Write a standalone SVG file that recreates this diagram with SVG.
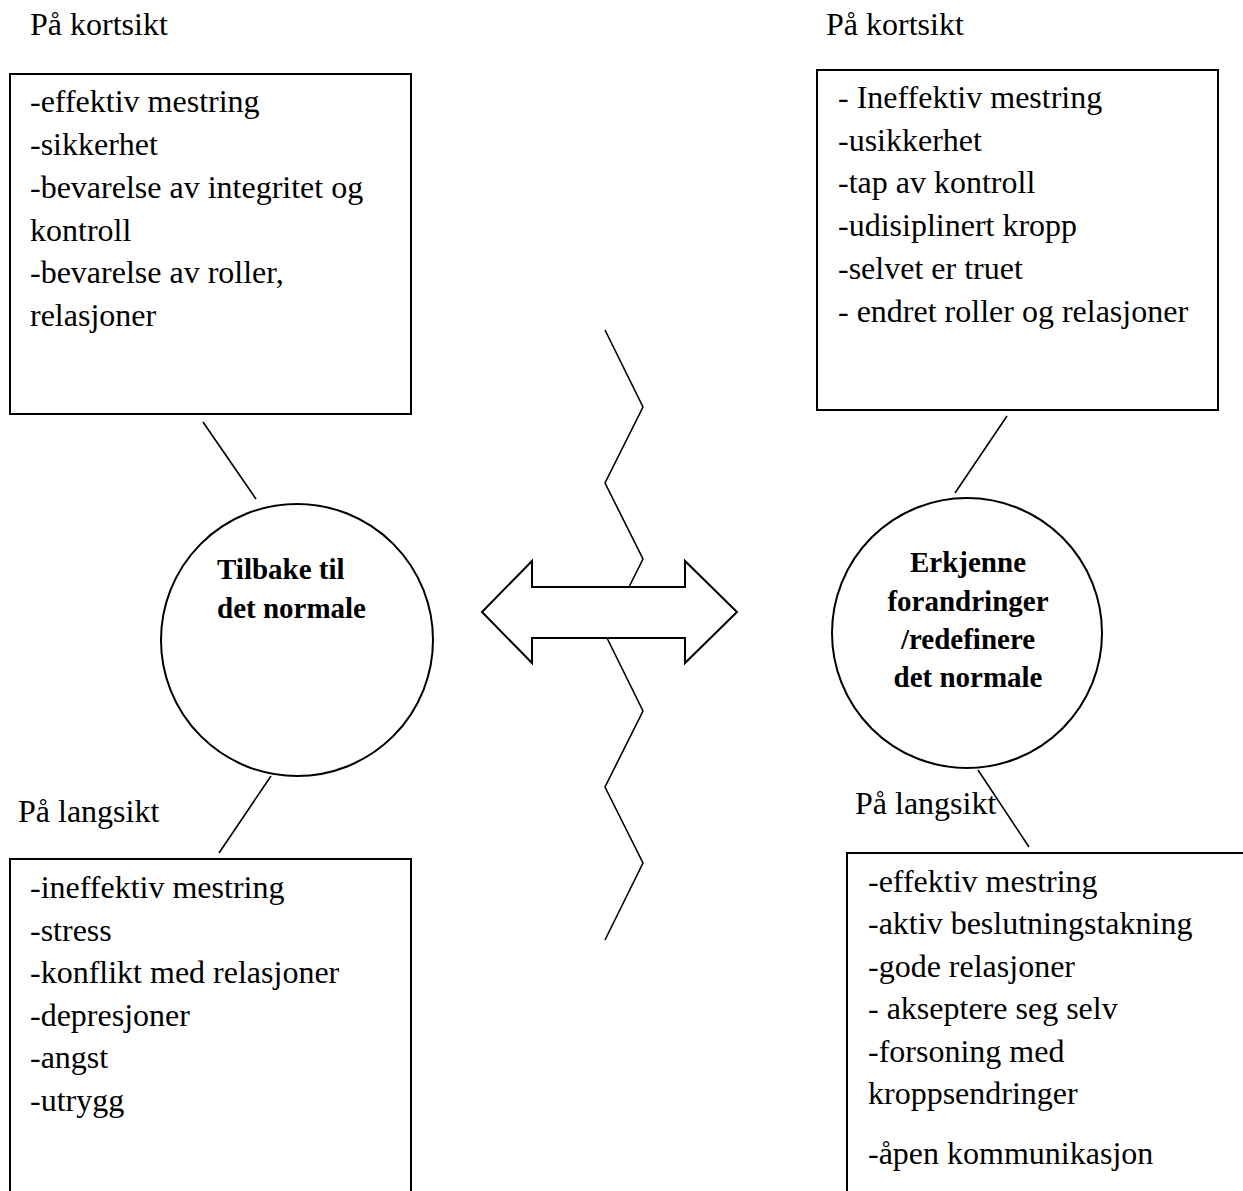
<svg xmlns="http://www.w3.org/2000/svg" width="1243" height="1191" viewBox="0 0 1243 1191">
<style>
.t{font-family:"Liberation Serif","Times New Roman",serif;font-size:32px;fill:#000}
.b{font-family:"Liberation Serif","Times New Roman",serif;font-size:29px;font-weight:bold;fill:#000}
.box{fill:#fff;stroke:#000;stroke-width:2}
.circ{fill:#fff;stroke:#000;stroke-width:2}
.ln{fill:none;stroke:#000;stroke-width:1.6}
</style>
<rect width="1243" height="1191" fill="#fff"/>
<g id="connectors">
<line class="ln" x1="203" y1="422" x2="256" y2="499"/>
<line class="ln" x1="271" y1="776" x2="219" y2="853"/>
<line class="ln" x1="1007" y1="416" x2="955" y2="493"/>
<line class="ln" x1="978" y1="770" x2="1029" y2="847"/>
</g>
<g id="zigzag">
<polyline class="ln" points="605,330 643,407 605,483 643,559 629,587"/>
<polyline class="ln" points="607,638 643,711 605,787 643,863 605,940"/>
</g>
<g id="double-arrow">
<polygon fill="none" stroke="#000" stroke-width="2" points="482,612 532,561 532,587 685,587 685,561 737,612 685,663 685,638 532,638 532,663"/>
</g>
<g id="label-kort-left"><text class="t" x="30" y="35">På kortsikt</text></g>
<g id="box-top-left">
<rect class="box" x="10" y="74" width="401" height="340"/>
<text class="t" x="30" y="112">-effektiv mestring</text>
<text class="t" x="30" y="155">-sikkerhet</text>
<text class="t" x="30" y="198">-bevarelse av integritet og</text>
<text class="t" x="30" y="241">kontroll</text>
<text class="t" x="30" y="283">-bevarelse av roller,</text>
<text class="t" x="30" y="326">relasjoner</text>
</g>
<g id="circle-left">
<circle class="circ" cx="297" cy="640" r="136"/>
<text class="b" x="217" y="579">Tilbake til</text>
<text class="b" x="217" y="618">det normale</text>
</g>
<g id="label-lang-left"><text class="t" x="18" y="822">På langsikt</text></g>
<g id="box-bottom-left">
<rect class="box" x="10" y="859" width="401" height="360"/>
<text class="t" x="30" y="898">-ineffektiv mestring</text>
<text class="t" x="30" y="941">-stress</text>
<text class="t" x="30" y="983">-konflikt med relasjoner</text>
<text class="t" x="30" y="1026">-depresjoner</text>
<text class="t" x="30" y="1068">-angst</text>
<text class="t" x="30" y="1111">-utrygg</text>
</g>
<g id="label-kort-right"><text class="t" x="826" y="35">På kortsikt</text></g>
<g id="box-top-right">
<rect class="box" x="817" y="70" width="401" height="340"/>
<text class="t" x="838" y="108">- Ineffektiv mestring</text>
<text class="t" x="838" y="151">-usikkerhet</text>
<text class="t" x="838" y="193">-tap av kontroll</text>
<text class="t" x="838" y="236">-udisiplinert kropp</text>
<text class="t" x="838" y="279">-selvet er truet</text>
<text class="t" x="838" y="322">- endret roller og relasjoner</text>
</g>
<g id="circle-right">
<circle class="circ" cx="967" cy="633" r="135"/>
<text class="b" x="968" y="572" text-anchor="middle">Erkjenne</text>
<text class="b" x="968" y="611" text-anchor="middle">forandringer</text>
<text class="b" x="968" y="649" text-anchor="middle">/redefinere</text>
<text class="b" x="968" y="687" text-anchor="middle">det normale</text>
</g>
<g id="label-lang-right"><text class="t" x="855" y="814">På langsikt</text></g>
<g id="box-bottom-right">
<rect class="box" x="847" y="853" width="420" height="380"/>
<text class="t" x="868" y="892">-effektiv mestring</text>
<text class="t" x="868" y="934">-aktiv beslutningstakning</text>
<text class="t" x="868" y="977">-gode relasjoner</text>
<text class="t" x="868" y="1019">- akseptere seg selv</text>
<text class="t" x="868" y="1062">-forsoning med</text>
<text class="t" x="868" y="1104">kroppsendringer</text>
<text class="t" x="868" y="1164">-åpen kommunikasjon</text>
</g>
</svg>
